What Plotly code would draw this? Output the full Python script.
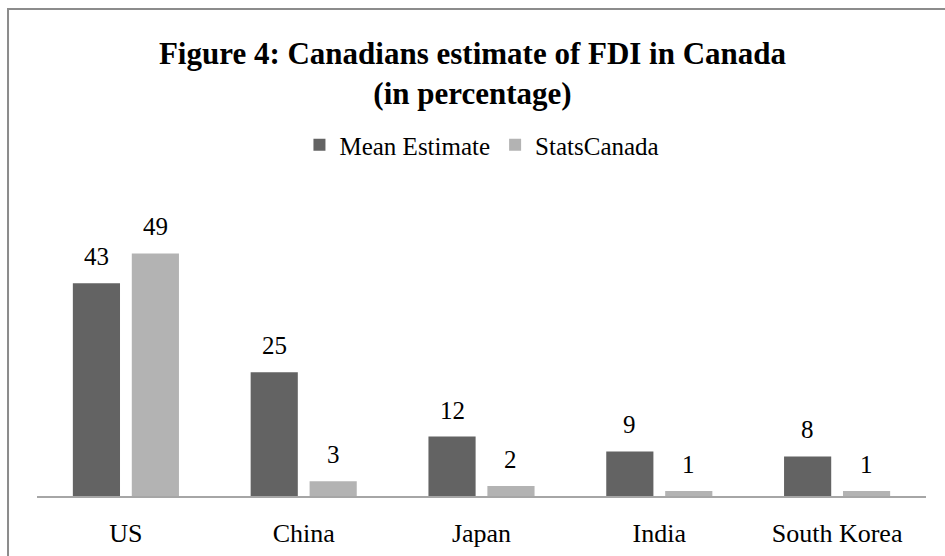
import plotly.graph_objects as go

# Foreign direct investment in Canada by source country (percent)
countries = ["US", "China", "Japan", "India", "South Korea"]
mean_estimate = [43, 25, 12, 9, 8]
stats_canada = [49, 3, 2, 1, 1]

series_names = ["Mean Estimate", "StatsCanada"]
series_values = [mean_estimate, stats_canada]
series_colors = ["#636363", "#b3b3b3"]

FONT = "Liberation Serif, Times New Roman, serif"
BARGAP = 0.337
BARGROUPGAP = 0.2

fig = go.Figure()
for name, vals, color in zip(series_names, series_values, series_colors):
    fig.add_trace(go.Bar(
        name=name, x=countries, y=vals,
        marker=dict(color=color, line=dict(width=0)),
    ))

# value labels above each bar, placed at the bar's slot centre in the group
slot = (1 - BARGAP) / len(series_values)
for j, vals in enumerate(series_values):
    offset = (j - (len(series_values) - 1) / 2) * slot
    for i, v in enumerate(vals):
        fig.add_annotation(
            x=i + offset, y=v, xref="x", yref="y",
            text=str(v), showarrow=False, yanchor="bottom", yshift=11,
            font=dict(family=FONT, size=25, color="#000000"),
        )

# outer frame of the chart area
fig.add_shape(
    type="rect", xref="paper", yref="paper",
    x0=-0.0326, x1=1.05, y0=-0.25, y1=1.6397,
    line=dict(color="#8c8c8c", width=2), fillcolor="rgba(0,0,0,0)", layer="below",
)

fig.update_layout(
    width=945, height=556,
    margin=dict(l=37, r=19, t=199, b=60, autoexpand=False),
    paper_bgcolor="white", plot_bgcolor="white",
    barmode="group", bargap=BARGAP, bargroupgap=BARGROUPGAP,
    title=dict(
        text="<b>Figure 4: Canadians estimate of FDI in Canada<br>(in percentage)</b>",
        x=0.5, xanchor="center", y=1 - 64 / 556, yanchor="top",
        font=dict(family=FONT, size=31, color="#000000"),
    ),
    legend=dict(
        orientation="h", x=0.51, xanchor="center", xref="container",
        y=1 - 145 / 556, yanchor="middle", yref="container",
        font=dict(family=FONT, size=25, color="#000000"),
        itemwidth=30, tracegroupgap=0,
    ),
    xaxis=dict(
        showline=True, linecolor="#a6a6a6", linewidth=2,
        showgrid=False, ticks="", ticklabelstandoff=13, automargin=False,
        tickfont=dict(family=FONT, size=26, color="#000000"),
    ),
    yaxis=dict(range=[0, 60], visible=False, showgrid=False, automargin=False),
    showlegend=True,
)

fig.write_html("out.html")
